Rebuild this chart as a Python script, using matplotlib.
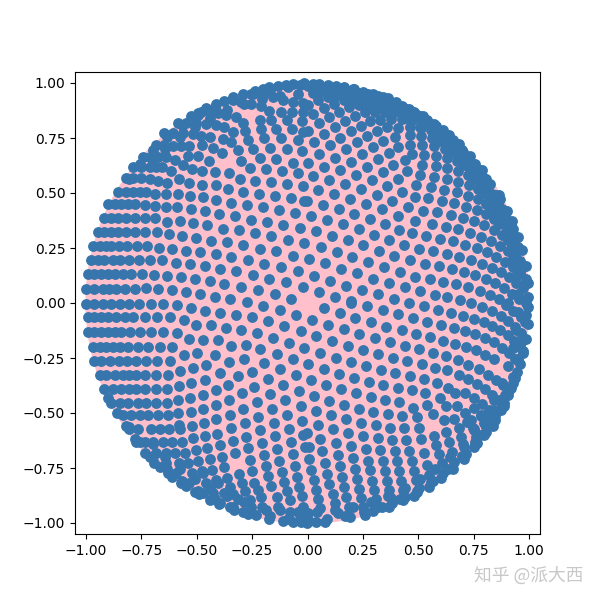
import numpy as np
import matplotlib.pyplot as plt

#%% POINTS, ONE LIST PER QUADRANT
upper_left = [
    (-.999,.065),(-.962,.065),(-.924,.065),(-.897,.065),(-.864,.065),(-.823,.065),(-.780,.065),(-.728,.067),(-.676,.062),(-.612,.057),(-.549,.050),(-.486,.039),(-.418,.026),(-.349,.017),(-.274,.003),
    (-.992,.132),(-.962,.132),(-.932,.132),(-.901,.132),(-.871,.132),(-.834,.132),(-.796,.132),(-.748,.130),(-.694,.126),(-.635,.121),(-.573,.117),(-.509,.108),(-.441,.098),(-.375,.086),(-.301,.071),(-.224,.059),(-.149,.041),(-.074,.020),
    (-.977,.195),(-.947,.195),(-.917,.195),(-.879,.195),(-.849,.195),(-.807,.195),(-.761,.195),(-.713,.195),(-.658,.194),(-.594,.183),(-.531,.176),(-.463,.167),(-.396,.153),(-.324,.144),(-.248,.126),(-.174,.111),(-.098,.094),(-.021,.071),
    (-.969,.261),(-.939,.261),(-.909,.261),(-.886,.261),(-.852,.261),(-.816,.261),(-.769,.261),(-.724,.257),(-.671,.250),(-.612,.244),(-.549,.238),(-.486,.230),(-.414,.221),(-.346,.208),(-.269,.194),(-.197,.179),(-.120,.162),(-.044,.144),
    (-.947,.321),(-.917,.321),(-.886,.321),(-.856,.321),(-.819,.321),(-.781,.321),(-.734,.321),(-.680,.321),(-.626,.315),(-.567,.303),(-.504,.294),(-.436,.283),(-.364,.276),(-.292,.262),(-.215,.247),(-.143,.235),(-.065,.215),
    (-.917,.388),(-.886,.388),(-.856,.388),(-.819,.388),(-.781,.388),(-.734,.388),(-.689,.385),(-.635,.370),(-.575,.371),(-.516,.362),(-.454,.353),(-.382,.338),(-.310,.330),(-.238,.317),(-.165,.305),(-.089,.288),(-.014,.271),
    (-.901,.450),(-.871,.450),(-.841,.450),(-.811,.450),(-.777,.450),(-.734,.445),(-.689,.440),(-.640,.435),(-.588,.436),(-.527,.427),(-.463,.417),(-.400,.403),(-.328,.394),(-.256,.379),(-.184,.367),(-.111,.354),(-.035,.341),
    (-.856,.506),(-.819,.506),(-.789,.506),(-.758,.506),(-.728,.503),(-.689,.495),(-.640,.494),(-.587,.494),(-.531,.485),(-.472,.480),(-.414,.467),(-.346,.453),(-.274,.444),(-.202,.435),(-.129,.421),(-.057,.408),
    (-.819,.567),(-.789,.567),(-.751,.567),(-.713,.564),(-.676,.556),(-.635,.544),(-.581,.563),(-.536,.544),(-.477,.535),(-.414,.535),(-.360,.517),(-.292,.503),(-.220,.494),(-.147,.485),(-.075,.476),(-.014,.462),
    (-.789,.620),(-.751,.620),(-.713,.620),(-.683,.620),(-.658,.620),(-.617,.598),(-.563,.626),(-.522,.607),(-.477,.598),(-.418,.594),(-.355,.589),(-.305,.562),(-.238,.553),(-.165,.548),(-.093,.539),(-.021,.530),
    (-.743,.665),(-.713,.665),(-.676,.665),(-.638,.665),(-.600,.652),(-.540,.668),(-.495,.667),(-.445,.644),(-.387,.680),(-.301,.644),(-.260,.612),(-.188,.608),(-.116,.598),(-.044,.589),
    (-.215,.658),(-.143,.653),(-.066,.635),
    (-.683,.718),(-.646,.718),(-.608,.715),(-.570,.712),(-.533,.715),(-.477,.717),(-.427,.703),(-.314,.694),(-.247,.698),(-.170,.703),(-.093,.698),(-.026,.689),
    (-.646,.771),(-.608,.771),(-.563,.771),(-.518,.766),(-.480,.761),(-.442,.756),(-.382,.745),(-.346,.730),(-.269,.739),(-.197,.748),(-.120,.748),(-.044,.739),
    (-.585,.817),(-.548,.817),(-.503,.817),(-.457,.812),(-.412,.807),(-.375,.800),(-.337,.776),(-.283,.780),(-.211,.789),(-.143,.789),(-.071,.789),(-.021,.776),
    (-.525,.850),(-.480,.870),(-.442,.870),(-.405,.862),(-.367,.855),(-.322,.845),(-.292,.817),(-.215,.832),(-.165,.830),(-.093,.830),(-.026,.826),
    (-.495,.865),(-.457,.885),(-.412,.905),(-.375,.920),(-.337,.923),(-.299,.915),(-.254,.905),(-.209,.895),(-.172,.873),(-.120,.866),(-.071,.866),(-.021,.866),
    (-.337,.938),(-.292,.950),(-.247,.950),(-.202,.945),(-.156,.935),(-.111,.925),(-.066,.915),(-.021,.910),
    (-.239,.965),(-.202,.975),(-.172,.980),(-.134,.985),(-.096,.990),(-.066,.995),(-.036,.990),
    (-.086,.981),(-.171,.970),(-.255,.951),(-.337,.926),(-.417,.892),(-.493,.853),(-.565,.807),(-.633,.755),(-.696,.696),(-.755,.633),(-.807,.565),
    (-.041,.949),(-.124,.942),(-.206,.927),(-.286,.906),(-.364,.878),(-.439,.843),(-.510,.801),(-.578,.754),(-.642,.700),(-.700,.642),
]

upper_right = [
    (.051,.052),(.123,.029),(.196,.011),
    (.029,.124),(.101,.101),(.173,.079),(.245,.058),(.318,.039),(.390,.017),(.458,.002),
    (.006,.198),(.078,.180),(.151,.156),(.223,.135),(.295,.111),(.367,.089),(.439,.071),(.507,.053),(.575,.035),(.629,.026),(.688,.014),(.738,.002),
    (.059,.253),(.132,.230),(.200,.208),(.272,.185),(.345,.162),(.417,.139),(.485,.120),(.552,.108),(.611,.094),(.670,.085),(.724,.071),(.778,.053),(.823,.035),(.864,.017),(.905,.002),
    (.038,.326),(.110,.303),(.182,.285),(.250,.262),(.322,.235),(.390,.212),(.462,.194),(.530,.176),(.593,.167),(.652,.153),(.706,.139),(.756,.126),(.805,.108),(.846,.089),(.887,.067),(.923,.039),(.954,.017),
    (.087,.376),(.160,.358),(.232,.335),(.300,.308),(.367,.285),(.435,.262),(.503,.244),(.566,.235),(.629,.221),(.683,.208),(.738,.194),(.787,.176),(.832,.158),(.873,.139),(.909,.117),(.941,.089),(.972,.067),(.995,.029),
    (.015,.394),(.209,.403),(.282,.380),(.349,.358),(.412,.330),(.471,.317),(.534,.303),(.598,.289),(.656,.280),(.710,.262),(.765,.248),(.810,.230),(.850,.208),(.891,.185),(.927,.162),(.959,.135),(.986,.108),
    (.069,.444),(.142,.426),(.336,.426),(.408,.394),(.485,.371),(.561,.358),(.625,.344),(.679,.335),(.733,.317),(.783,.298),(.828,.280),(.868,.258),(.905,.235),(.936,.212),(.960,.189),(.975,.165),
    (-.003,.462),(.119,.494),(.191,.471),(.263,.448),(.381,.462),(.453,.435),(.521,.417),(.584,.412),(.647,.398),(.701,.385),(.751,.371),(.796,.353),(.841,.330),(.878,.308),(.905,.285),(.925,.262),(.950,.239),
    (.047,.512),(.169,.539),(.241,.517),(.313,.489),(.426,.503),(.485,.480),(.543,.476),(.607,.462),(.661,.453),(.715,.435),(.765,.421),(.805,.403),(.840,.380),(.865,.358),(.900,.335),(.930,.309),
    (.024,.576),(.096,.558),(.218,.580),(.291,.558),(.358,.530),(.489,.535),(.557,.526),(.616,.512),(.674,.503),(.724,.485),(.769,.471),(.805,.448),(.835,.426),(.865,.403),(.895,.380),(.920,.353),
    (.074,.617),(.146,.603),(.268,.617),(.340,.594),(.408,.562),(.507,.580),(.570,.571),(.629,.562),(.679,.548),(.728,.535),(.769,.517),(.800,.494),(.830,.471),(.860,.448),(.880,.426),
    (.002,.635),(.123,.658),(.196,.639),(.318,.653),(.385,.626),(.449,.598),(.516,.626),(.579,.621),(.629,.612),(.679,.598),(.724,.580),(.755,.562),(.780,.539),(.805,.517),(.835,.494),(.870,.471),
    (.051,.676),(.173,.698),(.245,.676),(.367,.680),(.440,.648),(.471,.676),(.525,.671),(.579,.667),(.629,.658),(.674,.644),(.705,.626),(.735,.608),(.770,.585),(.800,.562),(.825,.539),
    (.029,.730),(.101,.717),(.223,.730),(.295,.707),(.408,.707),(.462,.717),(.516,.717),(.570,.712),(.620,.698),(.650,.685),(.680,.667),(.715,.648),(.750,.626),(.785,.603),
    (.074,.767),(.146,.748),(.268,.758),(.340,.735),(.394,.753),(.462,.762),(.512,.758),(.561,.748),(.600,.735),(.635,.721),(.670,.703),(.700,.685),(.730,.662),
    (.002,.780),(.123,.798),(.196,.780),(.313,.780),(.358,.798),(.408,.794),(.462,.798),(.512,.794),(.557,.785),(.590,.771),(.620,.758),(.655,.739),(.685,.721),
    (.051,.817),(.169,.826),(.241,.803),(.282,.826),(.327,.830),(.376,.835),(.426,.835),(.471,.830),(.516,.826),(.550,.817),(.580,.803),(.610,.785),(.640,.765),
    (.024,.857),(.096,.844),(.214,.848),(.259,.867),(.304,.867),(.349,.867),(.394,.867),(.440,.862),(.485,.857),(.510,.848),(.540,.830),(.570,.815),
    (.074,.885),(.142,.867),(.187,.889),(.232,.898),(.277,.898),(.322,.898),(.367,.898),(.412,.885),(.445,.880),(.480,.870),(.520,.850),
    (.002,.898),(.119,.903),(.164,.921),(.209,.926),(.254,.926),(.299,.926),(.345,.920),(.390,.910),(.425,.895),(.460,.880),
    (.047,.921),(.092,.935),(.137,.948),(.182,.953),(.227,.953),(.272,.950),(.318,.940),(.363,.930),(.400,.915),
    (.024,.953),(.069,.962),(.114,.976),(.160,.976),(.205,.971),(.250,.960),(.295,.950),(.340,.935),
    (-.014,.998),(.024,.995),(.054,.995),(.092,.991),(.130,.986),(.167,.980),(.212,.971),
    (.900,.420),(.925,.375),(.950,.300),(.970,.240),(.985,.170),(.995,.090),(.865,.490),(.790,.605),(.735,.670),
    (.985,.000),(.981,.086),(.970,.171),(.951,.255),(.926,.337),(.892,.417),(.853,.493),(.807,.565),(.755,.633),(.696,.696),(.633,.755),(.565,.807),(.493,.853),(.417,.892),(.337,.926),(.255,.951),(.171,.970),(.086,.981),(.000,.985),
    (.949,.041),(.942,.124),(.927,.206),(.906,.286),(.878,.364),(.843,.439),(.801,.510),(.754,.578),(.700,.642),(.642,.700),(.578,.754),(.510,.801),(.439,.843),(.364,.878),(.286,.906),(.206,.927),(.124,.942),(.041,.949),
]

lower_left = [
    (-.999,-.005),(-.962,-.005),(-.924,-.005),(-.886,-.005),(-.849,-.005),(-.807,-.005),(-.761,-.005),(-.706,-.005),(-.653,-.005),(-.590,-.009),(-.525,-.024),(-.464,-.035),(-.394,-.044),(-.324,-.053),(-.251,-.065),(-.179,-.083),(-.107,-.106),(-.030,-.129),
    (-.202,-.014),(-.125,-.032),(-.053,-.056),
    (-.992,-.065),(-.962,-.065),(-.932,-.065),(-.901,-.065),(-.864,-.065),(-.826,-.065),(-.789,-.065),(-.734,-.065),(-.680,-.065),(-.620,-.065),(-.558,-.077),(-.504,-.100),(-.436,-.100),(-.369,-.115),(-.301,-.124),(-.229,-.138),(-.156,-.161),(-.084,-.183),(-.017,-.206),
    (-.992,-.130),(-.962,-.130),(-.932,-.130),(-.901,-.130),(-.871,-.130),(-.841,-.130),(-.802,-.130),(-.757,-.130),(-.707,-.130),(-.653,-.130),(-.590,-.138),(-.536,-.165),(-.473,-.170),(-.405,-.170),(-.346,-.197),(-.278,-.192),(-.215,-.211),(-.138,-.233),(-.066,-.256),
    (-.969,-.199),(-.939,-.199),(-.909,-.199),(-.879,-.199),(-.849,-.199),(-.811,-.199),(-.766,-.199),(-.721,-.199),(-.667,-.199),(-.611,-.199),(-.558,-.238),(-.500,-.229),(-.418,-.238),(-.355,-.270),(-.287,-.256),(-.197,-.274),(-.125,-.302),(-.051,-.329),
    (-.962,-.264),(-.932,-.264),(-.894,-.264),(-.852,-.264),(-.816,-.264),(-.773,-.264),(-.730,-.264),(-.680,-.264),(-.621,-.264),(-.576,-.311),(-.518,-.297),(-.459,-.283),(-.396,-.320),(-.314,-.333),(-.251,-.315),(-.179,-.347),(-.111,-.374),(-.039,-.402),
    (-.939,-.327),(-.909,-.327),(-.871,-.327),(-.834,-.327),(-.804,-.327),(-.773,-.327),(-.734,-.327),(-.685,-.327),(-.631,-.327),(-.581,-.379),(-.527,-.365),(-.464,-.352),(-.414,-.397),(-.360,-.374),(-.296,-.411),(-.242,-.383),(-.170,-.415),(-.102,-.442),(-.030,-.470),
    (-.917,-.392),(-.879,-.392),(-.841,-.392),(-.804,-.392),(-.773,-.392),(-.734,-.392),(-.685,-.392),(-.635,-.392),(-.585,-.442),(-.531,-.433),(-.473,-.420),(-.414,-.465),(-.355,-.442),(-.292,-.483),(-.229,-.452),(-.161,-.483),(-.093,-.511),(-.026,-.538),
    (-.886,-.456),(-.849,-.456),(-.811,-.456),(-.766,-.456),(-.728,-.456),(-.685,-.456),(-.635,-.456),(-.585,-.502),(-.527,-.497),(-.473,-.483),(-.414,-.529),(-.351,-.511),(-.283,-.547),(-.224,-.520),(-.152,-.547),(-.084,-.574),(-.021,-.601),
    (-.834,-.509),(-.796,-.509),(-.758,-.509),(-.721,-.509),(-.676,-.509),(-.631,-.509),(-.581,-.556),(-.522,-.561),(-.468,-.547),(-.409,-.597),(-.346,-.570),(-.278,-.611),(-.215,-.579),(-.147,-.606),(-.075,-.633),(-.012,-.656),
    (-.804,-.574),(-.766,-.574),(-.706,-.574),(-.665,-.574),(-.626,-.574),(-.576,-.574),(-.518,-.614),(-.464,-.606),(-.396,-.647),(-.337,-.629),(-.269,-.661),(-.206,-.638),(-.138,-.665),(-.066,-.688),
    (-.773,-.630),(-.736,-.630),(-.698,-.630),(-.653,-.630),(-.612,-.630),(-.567,-.630),(-.504,-.670),(-.454,-.661),(-.387,-.702),(-.328,-.683),(-.260,-.715),(-.197,-.692),(-.129,-.720),(-.057,-.742),
    (-.736,-.680),(-.683,-.680),(-.638,-.680),(-.597,-.680),(-.552,-.680),(-.495,-.720),(-.441,-.711),(-.378,-.747),(-.310,-.779),(-.251,-.765),(-.188,-.742),(-.116,-.770),(-.048,-.792),
    (-.691,-.729),(-.638,-.729),(-.581,-.729),(-.540,-.729),(-.477,-.765),(-.432,-.761),(-.364,-.797),(-.296,-.820),(-.242,-.820),(-.179,-.788),(-.107,-.815),(-.039,-.838),
    (-.630,-.774),(-.593,-.774),(-.521,-.774),(-.473,-.774),(-.412,-.806),(-.351,-.838),(-.283,-.856),(-.224,-.851),(-.165,-.833),(-.093,-.856),(-.026,-.879),
    (-.570,-.820),(-.533,-.820),(-.457,-.820),(-.405,-.820),(-.337,-.870),(-.260,-.897),(-.211,-.883),(-.138,-.883),(-.080,-.897),(-.021,-.929),
    (-.510,-.860),(-.473,-.865),(-.427,-.865),(-.375,-.865),(-.314,-.890),(-.254,-.926),(-.187,-.941),(-.134,-.929),(-.081,-.948),(-.029,-.971),
    (-.440,-.897),(-.397,-.911),(-.352,-.925),(-.292,-.950),(-.232,-.965),(-.172,-.980),(-.111,-.990),(-.066,-.994),(-.029,-.996),
    (-.90,-.43),(-.86,-.50),(-.82,-.56),(-.78,-.62),(-.71,-.70),(-.665,-.745),(-.61,-.79),(-.55,-.83),(-.49,-.87),(-.40,-.915),(-.33,-.94),(-.27,-.96),
    (-.807,-.565),(-.755,-.633),(-.696,-.696),(-.633,-.755),(-.565,-.807),(-.493,-.853),(-.417,-.892),(-.337,-.926),(-.255,-.951),(-.171,-.970),(-.086,-.981),
    (-.700,-.642),(-.642,-.700),(-.578,-.754),(-.510,-.801),(-.439,-.843),(-.364,-.878),(-.286,-.906),(-.206,-.927),(-.124,-.942),(-.041,-.949),
]

lower_right = [
    (.196,.002),(.268,-.015),(.340,-.033),(.408,-.052),(.476,-.070),(.539,-.088),(.602,-.102),(.661,-.115),(.710,-.129),(.756,-.143),(.801,-.161),(.841,-.179),(.878,-.206),(.909,-.229),(.936,-.256),
    (.075,-.024),(.148,-.047),(.215,-.070),(.286,-.088),(.354,-.111),(.426,-.124),(.489,-.142),(.552,-.156),(.611,-.174),(.665,-.188),(.715,-.202),(.760,-.215),(.801,-.238),(.841,-.256),
    (.525,-.015),(.589,-.033),(.647,-.047),(.701,-.061),(.751,-.074),(.796,-.088),(.832,-.106),(.868,-.124),(.905,-.147),(.932,-.174),(.959,-.202),(.972,-.229),
    (.787,-.020),(.832,-.038),(.873,-.061),(.905,-.083),(.936,-.111),(.963,-.138),(.986,-.165),
    (.896,-.011),(.927,-.038),(.963,-.065),(.995,-.097),(.998,-.017),(.987,-.055),
    (.020,-.079),(.092,-.102),(.164,-.120),(.232,-.142),(.304,-.161),(.372,-.179),(.440,-.197),(.503,-.211),(.566,-.229),(.625,-.243),(.679,-.261),(.724,-.283),(.774,-.302),(.814,-.329),(.850,-.352),(.882,-.374),(.909,-.397),
    (.038,-.152),(.110,-.174),(.182,-.197),(.250,-.215),(.318,-.233),(.385,-.252),(.449,-.265),(.516,-.279),(.575,-.297),(.629,-.306),(.683,-.329),(.724,-.347),(.765,-.370),(.801,-.392),(.832,-.420),(.864,-.442),(.887,-.470),
    (.056,-.229),(.128,-.252),(.196,-.270),(.263,-.288),(.331,-.306),(.394,-.320),(.462,-.333),(.525,-.347),(.584,-.365),(.634,-.388),(.665,-.411),(.710,-.411),(.751,-.433),(.787,-.461),(.819,-.488),(.846,-.515),
    (.002,-.279),(.074,-.302),(.142,-.324),(.209,-.342),(.277,-.361),(.340,-.374),(.408,-.388),(.471,-.397),(.530,-.411),(.598,-.433),(.625,-.470),(.674,-.470),(.710,-.502),(.751,-.479),(.783,-.515),(.810,-.542),(.837,-.559),
    (.015,-.352),(.083,-.374),(.151,-.392),(.218,-.411),(.286,-.429),(.349,-.442),(.412,-.452),(.476,-.479),(.539,-.465),(.566,-.506),(.616,-.533),(.661,-.529),(.719,-.542),(.751,-.574),(.778,-.601),
    (.029,-.424),(.096,-.447),(.164,-.465),(.232,-.483),(.295,-.497),(.363,-.506),(.426,-.515),(.494,-.520),
    (.038,-.492),(.105,-.511),(.173,-.529),(.241,-.547),(.309,-.556),(.372,-.570),(.435,-.570),(.503,-.570),
    (.047,-.556),(.114,-.574),(.182,-.592),(.250,-.606),(.318,-.615),(.381,-.624),(.444,-.624),
    (.056,-.620),(.065,-.674),(.078,-.729),(.087,-.779),(.096,-.824),(.114,-.870),(.123,-.911),(.137,-.956),
    (.006,-.711),(.015,-.761),(.029,-.806),(.038,-.851),(.047,-.892),(.056,-.933),(.002,-.956),(-.001,-.998),(.039,-.996),(.077,-.994),
    (-.003,-.592),(.006,-.653),
    (.128,-.638),(.137,-.692),(.146,-.742),(.155,-.792),(.164,-.838),(.173,-.883),(.187,-.929),(.190,-.971),
    (.196,-.651),(.205,-.706),(.214,-.756),(.223,-.802),(.232,-.847),(.241,-.888),(.250,-.929),(.258,-.964),
    (.263,-.665),(.272,-.720),(.281,-.761),(.291,-.811),(.300,-.851),(.309,-.892),(.318,-.929),
    (.327,-.670),(.340,-.720),(.349,-.765),(.358,-.811),(.367,-.851),(.376,-.888),(.381,-.911),(.366,-.925),
    (.394,-.674),(.403,-.720),(.412,-.765),(.421,-.811),(.431,-.851),(.440,-.880),(.431,-.895),
    (.458,-.674),(.471,-.720),(.480,-.765),(.489,-.806),(.503,-.842),(.494,-.860),(.480,-.875),
    (.512,-.620),(.525,-.683),(.539,-.738),(.548,-.783),(.557,-.815),(.548,-.835),
    (.570,-.606),(.579,-.647),(.593,-.688),(.607,-.729),(.611,-.774),(.604,-.795),
    (.625,-.588),(.638,-.633),(.652,-.679),(.661,-.724),(.656,-.755),
    (.683,-.570),(.692,-.611),(.706,-.656),(.715,-.688),(.706,-.708),
    (.739,-.532),(.747,-.570),(.759,-.608),(.765,-.638),(.754,-.655),
    (.784,-.509),(.799,-.547),(.807,-.585),(.799,-.600),
    (.837,-.486),(.844,-.517),(.849,-.530),
    (.874,-.456),(.889,-.455),(.874,-.485),
    (.920,-.385),(.927,-.365),(.905,-.418),
    (.975,-.220),(.960,-.275),(.945,-.312),(.935,-.342),
    (.295,-.945),
    (.000,-.985),(.086,-.981),(.171,-.970),(.255,-.951),(.337,-.926),(.417,-.892),(.493,-.853),(.565,-.807),(.633,-.755),(.696,-.696),(.755,-.633),(.807,-.565),(.853,-.493),(.892,-.417),(.926,-.337),(.951,-.255),(.970,-.171),(.981,-.086),
    (.041,-.949),(.124,-.942),(.206,-.927),(.286,-.906),(.364,-.878),(.439,-.843),(.510,-.801),(.578,-.754),(.642,-.700),(.700,-.642),(.754,-.578),(.801,-.510),(.843,-.439),(.878,-.364),(.906,-.286),(.927,-.206),(.942,-.124),(.949,-.041),
]

sphere_radius = 1.0
points = np.array(upper_left + upper_right + lower_left + lower_right)

#%% FIGURE
plt.figure(figsize=(6,6), dpi=100)
ax = plt.gca()
ax.add_patch(plt.Circle((0, 0), sphere_radius, color="pink", zorder=1))
plt.scatter(points[:,0], points[:,1], s=46, color="#3776ad", zorder=2)
plt.axis([-1.05, 1.05, -1.05, 1.05])
plt.xticks(np.arange(-1, 1.01, 0.25))
plt.yticks(np.arange(-1, 1.01, 0.25))

# Watermark
plt.gcf().text(0.79, 0.0315, "知乎 @派大西", color="#c8c8c8", fontsize=12.8,
               family=["Noto Sans CJK SC", "DejaVu Sans"])

plt.savefig("out.png", dpi=100)
